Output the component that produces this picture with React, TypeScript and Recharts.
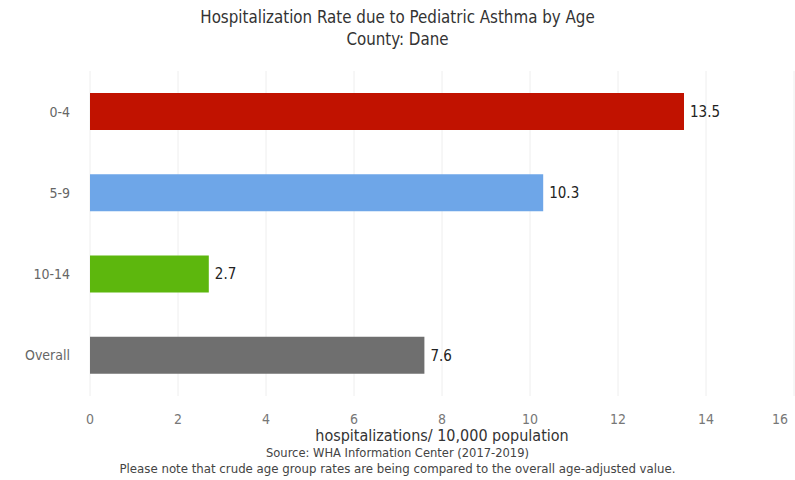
import { Bar, BarChart, CartesianGrid, Cell, LabelList, XAxis, YAxis } from "recharts";

const ageGroups = ["0-4", "5-9", "10-14", "Overall"];
const rates = [13.5, 10.3, 2.7, 7.6];
const xTicks = [0, 2, 4, 6, 8, 10, 12, 14, 16];

const barColors = ["#c11200", "#6ea6e8", "#5db70d", "#6f6f6f"];
const font = "'DejaVu Sans Condensed', 'Liberation Sans Narrow', 'DejaVu Sans', sans-serif";

const data = ageGroups.map((age, i) => ({ age, rate: rates[i] }));

function XTick(props: any) {
  const { x, y, payload } = props;
  const last = payload.value === xTicks[xTicks.length - 1];
  return (
    <text x={last ? x - 14 : x} y={y} dy="0.71em" textAnchor="middle" fill="#777" fontSize={14} fontFamily={font}>
      {payload.value}
    </text>
  );
}

export default function App() {
  return (
    <div style={{ position: "absolute", left: 0, top: 0, width: 795, height: 480, background: "#fff", fontFamily: font }}>
      <div style={{ position: "absolute", top: 6, width: 795, textAlign: "center", fontSize: 16.8, lineHeight: "22px", color: "#333" }}>
        Hospitalization Rate due to Pediatric Asthma by Age
        <br />
        County: Dane
      </div>
      <BarChart
        width={795}
        height={480}
        data={data}
        layout="vertical"
        margin={{ top: 71, right: 1, bottom: 54, left: 8 }}
        barCategoryGap="27%"
      >
        <CartesianGrid horizontal={false} stroke="#eeeeee" />
        <XAxis
          type="number"
          domain={[0, 16]}
          ticks={xTicks}
          axisLine={false}
          tickLine={false}
          tickMargin={12}
          tick={<XTick />}
          interval={0}
        />
        <YAxis
          type="category"
          dataKey="age"
          width={82}
          axisLine={false}
          tickLine={false}
          tickMargin={14}
          tick={{ fill: "#666", fontSize: 14, fontFamily: font }}
        />
        <Bar dataKey="rate" isAnimationActive={false}>
          {data.map((d, i) => (
            <Cell key={d.age} fill={barColors[i]} />
          ))}
          <LabelList dataKey="rate" position="right" offset={6} fill="#222" fontSize={15} fontFamily={font} />
        </Bar>
      </BarChart>
      <div style={{ position: "absolute", top: 426, left: 90, width: 704, textAlign: "center", fontSize: 16, lineHeight: "20px", color: "#333" }}>
        hospitalizations/ 10,000 population
      </div>
      <div style={{ position: "absolute", top: 445, width: 795, textAlign: "center", fontSize: 12.8, lineHeight: "16px", color: "#444" }}>
        Source: WHA Information Center (2017-2019)
      </div>
      <div style={{ position: "absolute", top: 461, width: 795, textAlign: "center", fontSize: 13.1, lineHeight: "16px", color: "#444" }}>
        Please note that crude age group rates are being compared to the overall age-adjusted value.
      </div>
    </div>
  );
}
